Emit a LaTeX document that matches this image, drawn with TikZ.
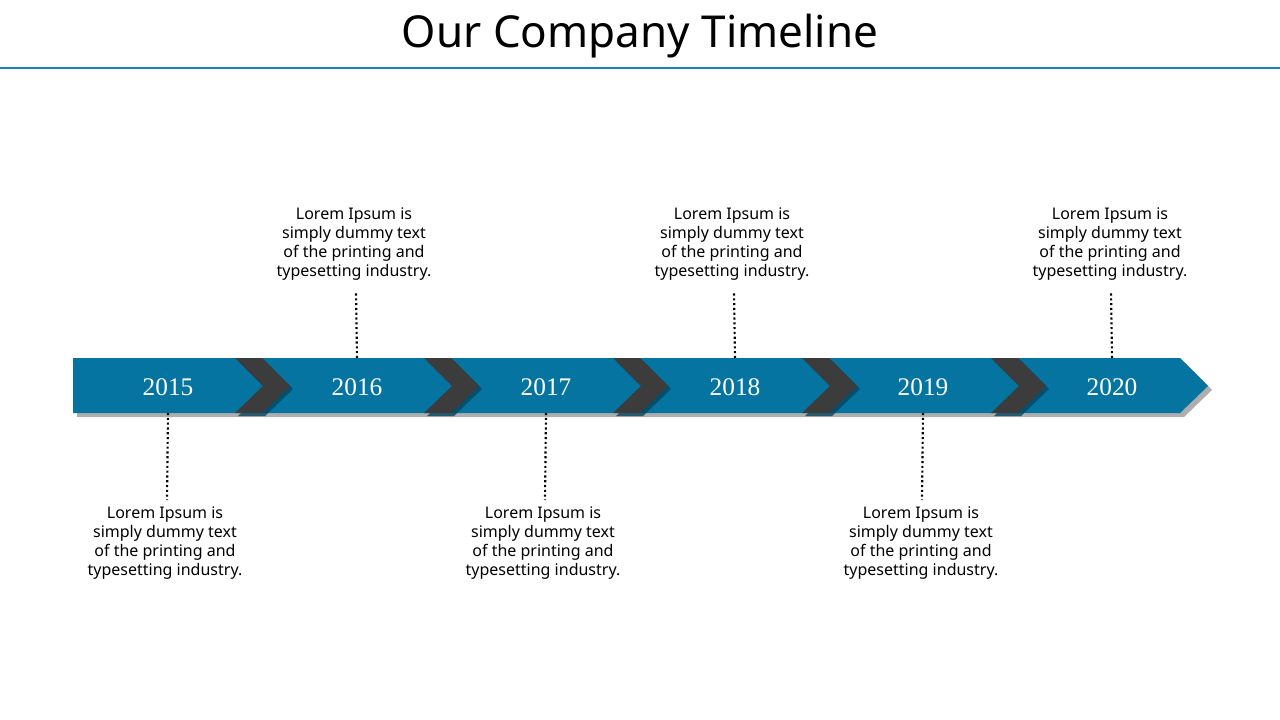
\documentclass[tikz,border=0pt]{standalone}
\usepackage{fontspec}
\setmainfont{Liberation Serif}
\newfontfamily\labfont{Noto Sans}
\usetikzlibrary{calc}
\definecolor{barblue}{HTML}{0674A1}
\definecolor{chev}{HTML}{3C3C3C}
\definecolor{rule}{HTML}{1A86B0}
\begin{document}
\begin{tikzpicture}[x=0.75pt,y=-0.75pt,
  desc/.style={font=\labfont\fontsize{12}{14.4}\selectfont,align=center,text=black},
  yr/.style={font=\fontsize{19}{22}\selectfont,text=white},
  conn/.style={line width=1.6pt,dotted,black}]
\useasboundingbox (0,0) rectangle (1280,720);
\fill[white] (0,0) rectangle (1280,720);
\node[font=\labfont\fontsize{33}{38}\selectfont] (title) at (640,36) {Our Company Timeline};
\draw[rule,line width=0.8pt] (0,68) -- (1280,68);
% shadow
\fill[black!45,opacity=0.7] (77,362) -- (1184,362) -- (1212,390) -- (1184,417) -- (77,417) -- cycle;
% bar
\fill[barblue] (73,358) -- (1180,358) -- (1208,386) -- (1180,413) -- (73,413) -- cycle;
% chevrons
\foreach \x in {235,424,613,802,991}{
  \fill[barblue!60!black,opacity=0.8] (\x+3,361) -- (\x+30,361) -- (\x+58,389) -- (\x+30,416) -- (\x+3,416) -- (\x+31,389) -- cycle;
  \fill[chev] (\x,358) -- (\x+27,358) -- (\x+55,386) -- (\x+27,413) -- (\x,413) -- (\x+28,386) -- cycle;
}
\foreach \i/\x/\y in {1/168/2015,2/357/2016,3/546/2017,4/735/2018,5/923/2019,6/1112/2020}{
  \node[yr] (y\i) at (\x,387) {\y};
}
\coordinate (c1) at (168,413); \coordinate (c2) at (357,358); \coordinate (c3) at (546,413);
\coordinate (c4) at (735,358); \coordinate (c5) at (923,413); \coordinate (c6) at (1112,358);
\node[desc] (d1) at (165,543) {Lorem Ipsum is\\simply dummy text\\of the printing and\\typesetting industry.};
\node[desc] (d2) at (354,244) {Lorem Ipsum is\\simply dummy text\\of the printing and\\typesetting industry.};
\node[desc] (d3) at (543,543) {Lorem Ipsum is\\simply dummy text\\of the printing and\\typesetting industry.};
\node[desc] (d4) at (732,244) {Lorem Ipsum is\\simply dummy text\\of the printing and\\typesetting industry.};
\node[desc] (d5) at (921,543) {Lorem Ipsum is\\simply dummy text\\of the printing and\\typesetting industry.};
\node[desc] (d6) at (1110,244) {Lorem Ipsum is\\simply dummy text\\of the printing and\\typesetting industry.};
\draw[conn] (c1) -- (167,500);
\draw[conn] (c2) -- (356,291);
\draw[conn] (c3) -- (545,500);
\draw[conn] (c4) -- (734,291);
\draw[conn] (c5) -- (922,500);
\draw[conn] (c6) -- (1111,291);
\end{tikzpicture}
\end{document}
